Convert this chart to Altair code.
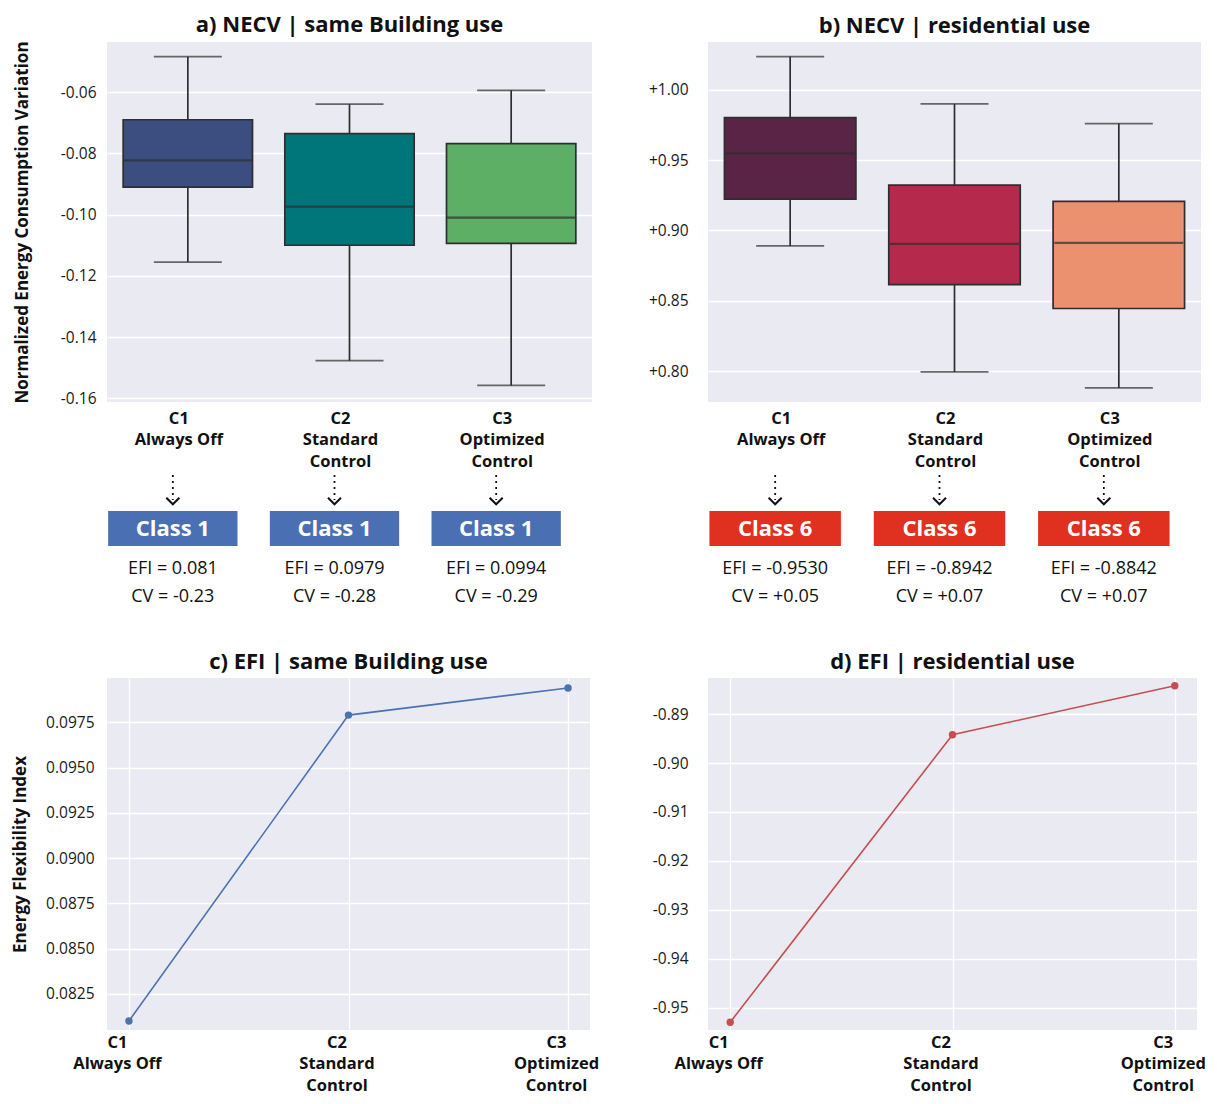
import altair as alt
import pandas as pd

FONT = "Open Sans"
DARK = "#2e2e2e"

cat_keys = ["C1|Always Off", "C2|Standard|Control", "C3|Optimized|Control"]

# a) NECV | same Building use  (box statistics read from the picture)
a_lower = [-0.1155, -0.1477, -0.1558]
a_q1 = [-0.0910, -0.1100, -0.1094]
a_med = [-0.0823, -0.0974, -0.1010]
a_q3 = [-0.0690, -0.0735, -0.0768]
a_upper = [-0.0484, -0.0639, -0.0594]
a_colors = ["#3c4e7f", "#00767a", "#5caf65"]
a_class = ["Class 1", "Class 1", "Class 1"]
a_efi = ["EFI = 0.081", "EFI = 0.0979", "EFI = 0.0994"]
a_cv = ["CV = -0.23", "CV = -0.28", "CV = -0.29"]
a_ticks = [-0.16, -0.14, -0.12, -0.10, -0.08, -0.06]

# b) NECV | residential use
b_lower = [0.8890, 0.7994, 0.7880]
b_q1 = [0.9222, 0.8615, 0.8445]
b_med = [0.9548, 0.8905, 0.8912]
b_q3 = [0.9802, 0.9322, 0.9206]
b_upper = [1.0236, 0.9900, 0.9760]
b_colors = ["#5a2446", "#b5294c", "#ec916f"]
b_class = ["Class 6", "Class 6", "Class 6"]
b_efi = ["EFI = -0.9530", "EFI = -0.8942", "EFI = -0.8842"]
b_cv = ["CV = +0.05", "CV = +0.07", "CV = +0.07"]
b_ticks = [0.80, 0.85, 0.90, 0.95, 1.00]

# c) / d) EFI lines
c_efi = [0.0810, 0.0979, 0.0994]
c_ticks = [0.0825, 0.0850, 0.0875, 0.0900, 0.0925, 0.0950, 0.0975]
d_efi = [-0.9530, -0.8942, -0.8842]
d_ticks = [-0.95, -0.94, -0.93, -0.92, -0.91, -0.90, -0.89]

NEG2 = "(datum.value < 0 ? '-' : '') + format(abs(datum.value), '.2f')"
PLUS2 = "'+' + format(datum.value, '.2f')"
POS4 = "format(datum.value, '.4f')"
SPLIT = "split(datum.label, '|')"


def yaxis_def(ticks, lab_expr, lab_pad, title_pad):
    return alt.Axis(values=ticks, labelExpr=lab_expr, grid=True,
                    labelPadding=lab_pad, titlePadding=title_pad)


def box_panel(title, lower, q1, med, q3, upper, colors, dom, ticks, lab_expr,
              classes, class_color, efi, cv, w, h, ytitle, lab_pad, title_pad):
    df = pd.DataFrame({"key": cat_keys, "lower": lower, "q1": q1, "med": med,
                       "q3": q3, "upper": upper, "fill": colors, "cls": classes,
                       "efi": efi, "cv": cv})
    x = alt.X("key:N", sort=cat_keys,
              scale=alt.Scale(domain=cat_keys, paddingInner=0.2, paddingOuter=0.1),
              axis=alt.Axis(labelExpr=SPLIT, grid=False, labelOffset=-9, labelPadding=8),
              title=None)
    yscale = alt.Scale(domain=dom, nice=False, zero=False)
    yaxis = yaxis_def(ticks, lab_expr, lab_pad, title_pad)

    def Y(f):
        if ytitle:
            return alt.Y(f + ":Q", scale=yscale, axis=yaxis, title=ytitle)
        return alt.Y(f + ":Q", scale=yscale, axis=yaxis, title=None)

    base = alt.Chart(df)
    whisk = base.mark_rule(color=DARK, strokeWidth=1.7).encode(x=x, y=Y("lower"), y2="upper:Q")
    cap_lo = base.mark_tick(color=DARK, size=68, thickness=1.7).encode(x=x, y=Y("lower"))
    cap_hi = base.mark_tick(color=DARK, size=68, thickness=1.7).encode(x=x, y=Y("upper"))
    box = base.mark_bar(stroke=DARK, strokeWidth=1.7).encode(
        x=x, y=Y("q1"), y2="q3:Q",
        color=alt.Color("fill:N", scale=None, legend=None))
    median = base.mark_tick(color=DARK, size=129, thickness=2.2).encode(x=x, y=Y("med"))

    dash = base.mark_rule(color="#111", strokeWidth=1.8, strokeDash=[2, 4], xOffset=-15).encode(
        x=x, y=alt.value(433), y2=alt.value(458))
    chev = base.mark_point(shape="M-1,-0.5L0,0.5L1,-0.5", size=170, filled=False,
                           strokeWidth=2, color="#111", opacity=1, xOffset=-15).encode(
        x=x, y=alt.value(459))
    rect = base.mark_rect(color=class_color, xOffset=-15).encode(
        x=x, y=alt.value(469), y2=alt.value(504))
    ctext = base.mark_text(color="white", fontSize=22, fontWeight="bold", dx=-15, font=FONT).encode(
        x=x, y=alt.value(487), text="cls:N")
    etext = base.mark_text(color="#111", fontSize=18, dx=-15, font=FONT).encode(
        x=x, y=alt.value(527), text="efi:N")
    vtext = base.mark_text(color="#111", fontSize=18, dx=-15, font=FONT).encode(
        x=x, y=alt.value(555), text="cv:N")

    return alt.layer(whisk, cap_lo, cap_hi, box, median, dash, chev, rect, ctext, etext, vtext).properties(
        width=w, height=h, title=title)


def line_panel(title, vals, color, dom, ticks, lab_expr, w, h, ytitle, lab_pad, title_pad):
    df = pd.DataFrame({"key": cat_keys, "v": vals})
    x = alt.X("key:N", sort=cat_keys,
              scale=alt.Scale(type="point", domain=cat_keys, padding=0.1),
              axis=alt.Axis(labelExpr=SPLIT, grid=True, labelOffset=-12, labelPadding=4),
              title=None)
    yscale = alt.Scale(domain=dom, nice=False, zero=False)
    yaxis = yaxis_def(ticks, lab_expr, lab_pad, title_pad)
    if ytitle:
        y = alt.Y("v:Q", scale=yscale, axis=yaxis, title=ytitle)
    else:
        y = alt.Y("v:Q", scale=yscale, axis=yaxis, title=None)
    return alt.Chart(df).mark_line(
        color=color, strokeWidth=1.6,
        point=alt.OverlayMarkDef(color=color, size=55, filled=True, opacity=1)
    ).encode(x=x, y=y).properties(width=w, height=h, title=title)


pa = box_panel("a) NECV | same Building use", a_lower, a_q1, a_med, a_q3, a_upper, a_colors,
               [-0.1612, -0.0436], a_ticks, NEG2, a_class, "#4a6fb3", a_efi, a_cv,
               485, 360, "Normalized Energy Consumption Variation", 11, 29)
pb = box_panel("b) NECV | residential use", b_lower, b_q1, b_med, b_q3, b_upper, b_colors,
               [0.778, 1.034], b_ticks, PLUS2, b_class, "#e0301f", b_efi, b_cv,
               493, 360, "", 20, 10)
pc = line_panel("c) EFI | same Building use", c_efi, "#4c72b0", [0.0805, 0.09995], c_ticks, POS4,
                483, 352, "Energy Flexibility Index", 13, 16)
pd_ = line_panel("d) EFI | residential use", d_efi, "#c44e52", [-0.9546, -0.8826], d_ticks, NEG2,
                 489, 352, "", 20, 10)

chart = alt.concat(pa, pb, pc, pd_, columns=2, spacing={"row": 276, "column": 116},
                   bounds="flush").properties(
    padding={"left": 3, "top": 5, "right": 0, "bottom": 0}
).configure_view(
    fill="#eaeaf2", stroke=None
).configure_axis(
    domain=False, ticks=False, gridColor="white", gridWidth=1.3,
    labelFont=FONT, titleFont=FONT, labelFontSize=15.5, labelColor="#1a1a1a",
    titleFontSize=17, titleFontWeight="bold", titleColor="#111"
).configure_axisX(
    labelFontSize=16.5, labelFontWeight="bold", labelAngle=0, labelLineHeight=21.5,
    labelColor="#111"
).configure_title(
    font=FONT, fontSize=22, fontWeight="bold", color="#111", offset=4, anchor="middle"
)

chart.save("out.html", embed_options={"renderer": "svg", "actions": False})
